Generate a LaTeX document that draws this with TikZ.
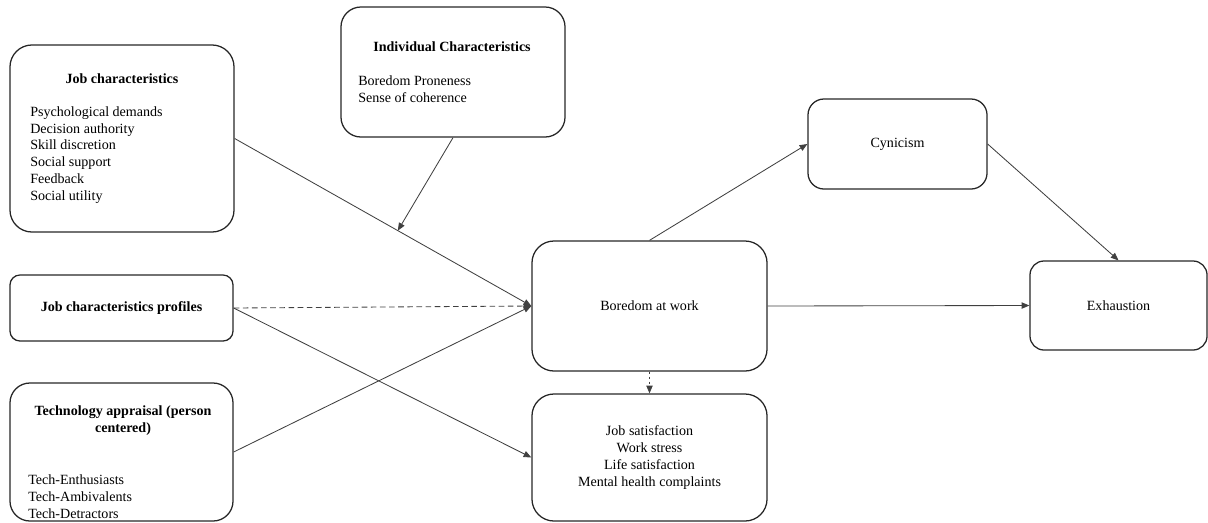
\documentclass[tikz,border=0pt]{standalone}
\usepackage{fontspec}
\setmainfont{Liberation Serif}
\usetikzlibrary{calc}
\usetikzlibrary{positioning}
\usetikzlibrary{arrows.meta}

\begin{document}
\begin{tikzpicture}[%
  >={Triangle[length=5.5pt, width=4.5pt]},
  x=0.025cm, y=-0.025cm,
  box/.style={draw=black!85, line width=0.9pt, inner sep=0pt, align=center},
  head/.style={font=\bfseries, inner sep=0pt, anchor=mid},
  items/.style={align=left, inner sep=0pt, anchor=west},
  link/.style={->, draw=black!75, line width=0.6pt},
]

  \useasboundingbox (0,0) rectangle (1208,522);

  \node[box, rounded corners=0.55cm, minimum width=5.6cm, minimum height=4.675cm] (jc) at (122,138.5) {};
  \node[box, rounded corners=0.5cm, minimum width=5.6cm, minimum height=3.25cm] (ic) at (453,72) {};
  \node[box, rounded corners=0.25cm, minimum width=5.575cm, minimum height=1.65cm, font=\bfseries] (jcp) at (121.5,308) {Job characteristics profiles};
  \node[box, rounded corners=0.5cm, minimum width=5.575cm, minimum height=3.45cm] (ta) at (121.5,452) {};

  \node[box, rounded corners=0.55cm, minimum width=5.875cm, minimum height=3.25cm] (bw) at (649.5,306) {Boredom at work};
  \node[box, rounded corners=0.55cm, minimum width=5.875cm, minimum height=3.175cm] (out) at (649.5,457.5) {Job satisfaction\\Work stress\\Life satisfaction\\Mental health complaints};

  \node[box, rounded corners=0.4cm, minimum width=4.475cm, minimum height=2.25cm] (cyn) at (897.5,144) {Cynicism};
  \node[box, rounded corners=0.35cm, minimum width=4.425cm, minimum height=2.225cm] (exh) at (1118.5,305.5) {Exhaustion};

  \node[head] (jctitle) at (122,80) {Job characteristics};
  \node[items] (jclist) at (30,155) {Psychological demands\\Decision authority\\Skill discretion\\Social support\\Feedback\\Social utility};

  \node[head] (ictitle) at (452,48) {Individual Characteristics};
  \node[items] (iclist) at (358,89.5) {Boredom Proneness\\Sense of coherence};

  \node[head, align=center, anchor=center] (tatitle) at (123,421) {Technology appraisal (person\\centered)};
  \node[items] (talist) at (28,497) {Tech-Enthusiasts\\Tech-Ambivalents\\Tech-Detractors};

  \coordinate (mod) at ($(jc.east)!0.55!(bw.west)$);

  \draw[link] (jc.east) -- (bw.west);
  \draw[link] (ic.south) -- (mod);
  \draw[link, dashed, dash pattern=on 4pt off 2.5pt] (jcp.east) -- (bw.west);
  \draw[link] (jcp.east) -- (out.west);
  \draw[link] (ta.east) -- (bw.west);
  \draw[link, dash pattern=on 2pt off 1.5pt] (bw.south) -- (out.north);

  \draw[link] (bw.north) -- (cyn.west);
  \draw[link] (bw.east) -- (exh.west);
  \draw[link] (cyn.east) -- (exh.north);

\end{tikzpicture}
\end{document}
